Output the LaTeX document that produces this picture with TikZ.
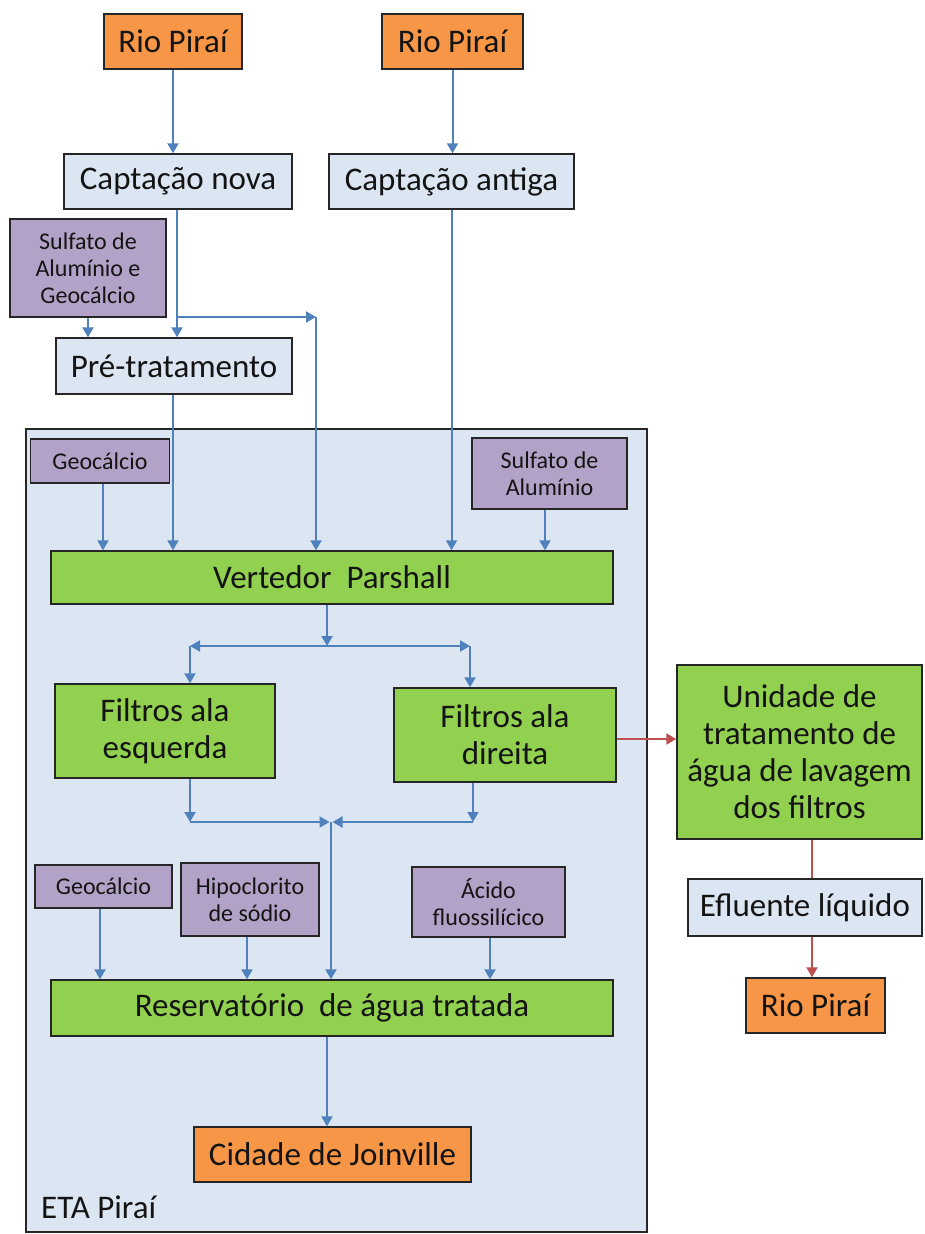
\documentclass[tikz,border=0pt]{standalone}
\usepackage{fontspec}
\setmainfont{Carlito}
\usetikzlibrary{arrows.meta,calc}
\definecolor{orng}{HTML}{F79646}
\definecolor{lblue}{HTML}{DCE6F2}
\definecolor{grn}{HTML}{92D050}
\definecolor{purp}{HTML}{B3A2C7}
\definecolor{ablue}{HTML}{4F81BD}
\definecolor{ared}{HTML}{C0504D}
\definecolor{bord}{HTML}{262626}
\definecolor{txt}{HTML}{141414}
\begin{document}
\begin{tikzpicture}[x=1pt,y=-1pt,
  base/.style={draw=bord,line width=1.4pt,inner sep=0pt,align=center,text=txt},
  wh/.style 2 args={minimum width=#1pt,minimum height=#2pt},
  bigtxt/.style={font=\fontsize{33}{37}\selectfont},
  smalltxt/.style={font=\fontsize{24}{27}\selectfont},
  orangebox/.style={base,bigtxt,fill=orng},
  bluebox/.style={base,bigtxt,fill=lblue},
  greenbox/.style={base,bigtxt,fill=grn},
  purplebox/.style={base,smalltxt,fill=purp},
  arr/.style={draw=ablue,line width=2pt,-{Triangle[width=11pt,length=10pt]}},
  rarr/.style={draw=ared,line width=2pt,-{Triangle[width=11pt,length=10pt]}},
  rline/.style={draw=ared,line width=2pt}
]
\useasboundingbox (0,0) rectangle (925,1234);
\fill[white] (0,0) rectangle (925,1234);

% ETA frame
\node[base,fill=lblue,wh={621}{803}] (eta) at (336.5,830.5) {};
\node[bigtxt,text=txt,anchor=west,inner sep=0pt] (etalabel) at (41,1207) {ETA Piraí};

% top
\node[orangebox,wh={138}{55}] (rio1) at (173,41.5) {Rio Piraí};
\node[orangebox,wh={141}{55}] (rio2) at (452.5,41.5) {Rio Piraí};
\node[bluebox,wh={228}{55}] (capnova) at (178,181.5) {Captação nova};
\node[bluebox,wh={245}{55}] (capantiga) at (451.5,181.5) {Captação antiga};
\node[purplebox,wh={156}{98}] (sulf1) at (88,268) {Sulfato de\\Alumínio e\\Geocálcio};
\node[bluebox,wh={236}{56}] (pre) at (174,366) {Pré-tratamento};

% inside ETA
\node[purplebox,wh={139}{44}] (geo1) at (100,461) {Geocálcio};
\node[purplebox,wh={155}{71}] (sulf2) at (549.5,473.5) {Sulfato de\\Alumínio};
\node[greenbox,wh={562}{53}] (vert) at (332,577.5) {Vertedor\ \ Parshall};
\node[greenbox,wh={220}{94}] (filesq) at (165,731) {Filtros ala\\esquerda};
\node[greenbox,wh={222}{94}] (fildir) at (505,735) {Filtros ala\\direita};
\node[purplebox,wh={137}{43}] (geo2) at (103.5,886.5) {Geocálcio};
\node[purplebox,wh={138}{73}] (hipo) at (250,899.5) {Hipoclorito\\de sódio};
\node[purplebox,wh={153}{70}] (acido) at (488.5,902) {Ácido\\fluossilícico};
\node[greenbox,wh={562}{56}] (res) at (332,1008) {Reservatório\ \ de água tratada};
\node[orangebox,wh={277}{55}] (cidade) at (332.5,1154.5) {Cidade de Joinville};

% right side
\node[greenbox,wh={245}{174}] (unid) at (799.5,752) {Unidade de\\tratamento de\\água de lavagem\\dos filtros};
\node[bluebox,wh={234}{57}] (eflu) at (805,907.5) {Efluente líquido};
\node[orangebox,wh={139}{55}] (rio3) at (815.5,1005.5) {Rio Piraí};

% junction coordinates
\coordinate (br) at (316,317);
\coordinate (split) at (327,646);
\coordinate (sl) at (190,646);
\coordinate (sr) at (470,646);
\coordinate (ml) at (190,822);
\coordinate (mr) at (473,822);
\coordinate (merge) at (331,822);
\coordinate (rx) at (812,0);

% blue connectors
\draw[arr] (rio1.south) -- (rio1.south |- capnova.north);
\draw[arr] (rio2.south) -- (rio2.south |- capantiga.north);
\draw[arr] ([xshift=-1pt]capnova.south) -- ([xshift=-1pt]capnova.south |- pre.north);
\draw[arr] ([xshift=-1pt]capnova.south |- br) -- (br);
\draw[arr] (br) -- (br |- vert.north);
\draw[arr] (sulf1.south) -- (sulf1.south |- pre.north);
\draw[arr] ([xshift=-1pt]pre.south) -- ([xshift=-1pt]pre.south |- vert.north);
\draw[arr] (capantiga.south) -- (capantiga.south |- vert.north);
\draw[arr] ([xshift=3pt]geo1.south) -- ([xshift=3pt]geo1.south |- vert.north);
\draw[arr] ([xshift=-4.5pt]sulf2.south) -- ([xshift=-4.5pt]sulf2.south |- vert.north);
\draw[arr] ([xshift=-5pt]vert.south) -- (split);
\draw[arr] (split) -- (sl);
\draw[arr] (split) -- (sr);
\draw[arr] (sl) -- (sl |- filesq.north);
\draw[arr] (sr) -- (sr |- fildir.north);
\draw[arr] (filesq.south -| ml) -- (ml);
\draw[arr] (fildir.south -| mr) -- (mr);
\draw[arr] (ml) -- ([xshift=-1.5pt]merge);
\draw[arr] (mr) -- ([xshift=1.5pt]merge);
\draw[arr] (merge) -- (merge |- res.north);
\draw[arr] ([xshift=-3.5pt]geo2.south) -- ([xshift=-3.5pt]geo2.south |- res.north);
\draw[arr] ([xshift=-3pt]hipo.south) -- ([xshift=-3pt]hipo.south |- res.north);
\draw[arr] ([xshift=1.5pt]acido.south) -- ([xshift=1.5pt]acido.south |- res.north);
\draw[arr] ([xshift=-5pt]res.south) -- ([xshift=-5pt]res.south |- cidade.north);

% red connectors
\draw[rarr] ([yshift=-4pt]fildir.east) -- ([yshift=-4pt]fildir.east -| unid.west);
\draw[rline] (unid.south -| rx) -- (eflu.north -| rx);
\draw[rarr] (eflu.south -| rx) -- (rio3.north -| rx);
\end{tikzpicture}
\end{document}
